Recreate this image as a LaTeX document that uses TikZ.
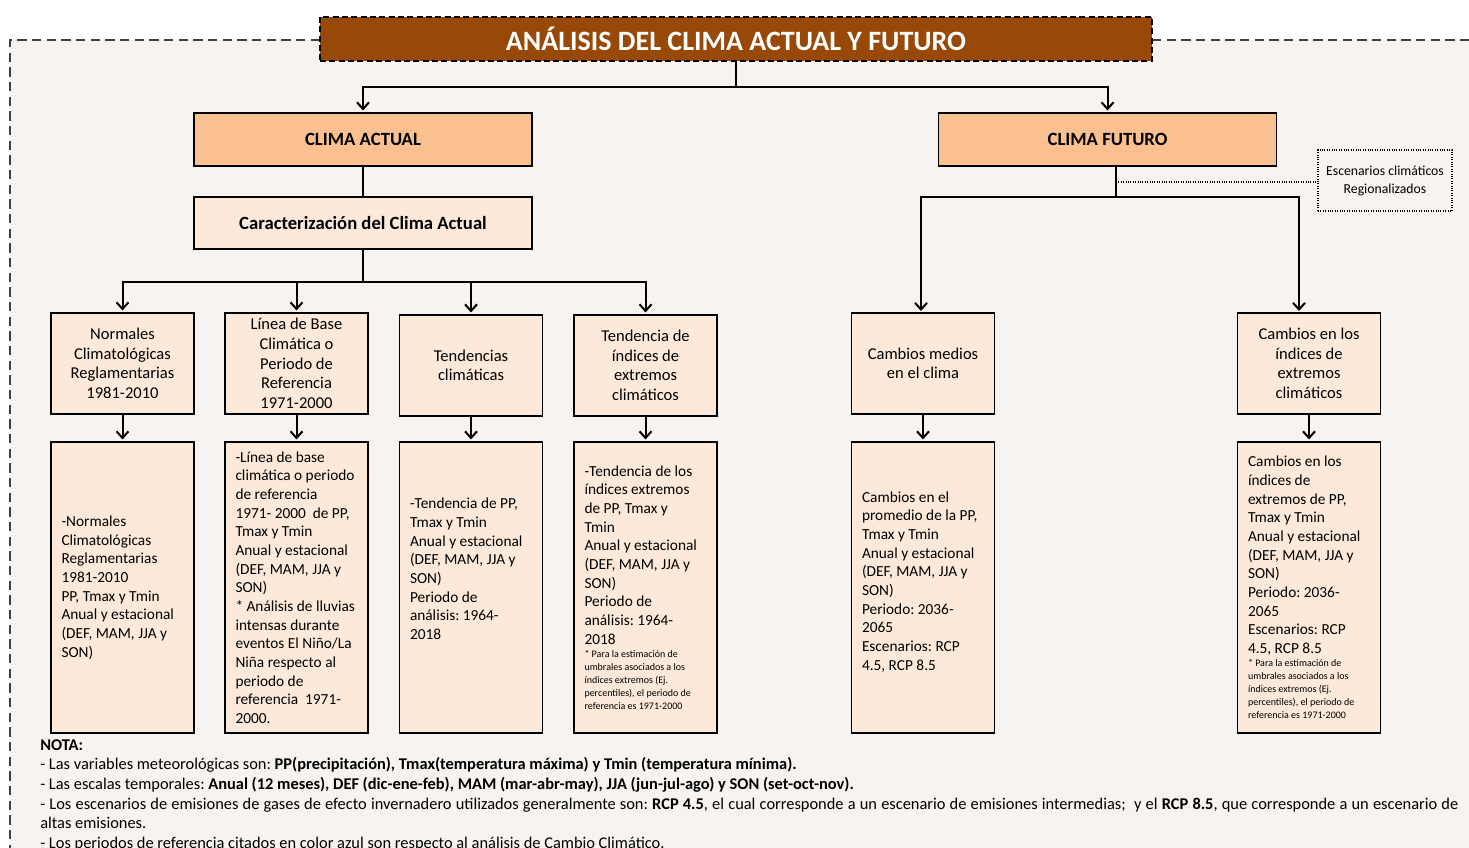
\documentclass[tikz,border=0pt]{standalone}
\usepackage{fontspec}
\setmainfont{Carlito}
\usetikzlibrary{arrows.meta,calc}
\definecolor{titlebrown}{HTML}{984807}
\definecolor{peach}{HTML}{FAC090}
\definecolor{lightpeach}{HTML}{FDE9D9}
\definecolor{bgpaper}{HTML}{F6F3F0}
\definecolor{framegray}{HTML}{404040}
\begin{document}
\frenchspacing
\begin{tikzpicture}[x=0.75pt,y=-0.75pt,
  conn/.style={line width=1.5pt,black},
  arr/.style={conn,-{Straight Barb[length=5pt,width=9pt]},shorten >=1.5pt},
  titlebox/.style={draw=black,fill=titlebrown,line width=1.5pt,dash pattern=on 4.5pt off 2.5pt,
     minimum width=624pt,minimum height=33pt,text=white,font=\bfseries\fontsize{21}{25}\selectfont},
  lvlone/.style={draw=black,fill=peach,line width=0.8pt,minimum width=253.5pt,minimum height=39.75pt,
     font=\bfseries\fontsize{14}{16}\selectfont},
  carbox/.style={draw=black,fill=lightpeach,line width=0.8pt,minimum width=253.5pt,minimum height=39pt,
     font=\bfseries\fontsize{14}{16}\selectfont},
  lvltwo/.style={draw=black,fill=lightpeach,line width=0.8pt,minimum width=107.25pt,minimum height=75.75pt,
     align=flush center,inner sep=2pt,font=\fontsize{12.4}{14.7}\selectfont},
  lvlthree/.style={draw=black,fill=lightpeach,line width=0.8pt,minimum width=107.25pt,minimum height=218.25pt,
     text width=91.5pt,inner xsep=7.8pt,align=flush left,font=\fontsize{11.5}{14}\selectfont},
  escbox/.style={draw=black,densely dotted,line width=0.8pt,minimum width=100.5pt,minimum height=45.75pt,
     align=flush center,font=\fontsize{10.3}{13.5}\selectfont}
]
\clip (0,0) rectangle (1469,848);
% background and dashed frame
\fill[bgpaper] (10,40) rectangle (1480,860);
\draw[framegray,line width=1.2pt,dash pattern=on 7pt off 4pt] (320,40) -- (10,40) -- (10,870);
\draw[framegray,line width=1.2pt,dash pattern=on 7pt off 4pt] (1152,40) -- (1490,40);

% title
\node[titlebox] (title) at (736,39) {ANÁLISIS DEL CLIMA ACTUAL Y FUTURO};

% level 1
\node[lvlone] (act) at (363,139.5) {CLIMA ACTUAL};
\node[lvlone] (fut) at (1107.5,139.5) {CLIMA FUTURO};
\node[carbox] (car) at (363,223) {Caracterización del Clima Actual};
\node[escbox] (esc) at (1385,180.5) {Escenarios climáticos\\Regionalizados};

% level 2
\node[lvltwo] (n1) at (122.5,363.5) {Normales\\Climatológicas\\Reglamentarias\\1981-2010};
\node[lvltwo] (n2) at (296.5,363.5) {Línea de Base\\Climática o\\Periodo de\\Referencia\\1971-2000};
\node[lvltwo] (n3) at (471,365.5) {Tendencias\\climáticas};
\node[lvltwo] (n4) at (645.5,365.5) {Tendencia de\\índices de\\extremos\\climáticos};
\node[lvltwo] (n5) at (923,363.5) {Cambios medios\\en el clima};
\node[lvltwo] (n6) at (1309,363.5) {Cambios en los\\índices de\\extremos\\climáticos};

% level 3
\node[lvlthree] (m1) at (122.5,587.5) {-Normales\\Climatológicas\\Reglamentarias\\1981-2010\\PP, Tmax y Tmin\\Anual y estacional\\(DEF, MAM, JJA y\\SON)};
\node[lvlthree] (m2) at (296.5,587.5) {-Línea de base\\climática o periodo\\de referencia\\1971- 2000~ de PP,\\Tmax y Tmin\\Anual y estacional\\(DEF, MAM, JJA y\\SON)\\{*} Análisis de lluvias\\intensas durante\\eventos El Niño/La\\Niña respecto al\\periodo de\\referencia~ 1971-\\2000.};
\node[lvlthree] (m3) at (471,587.5) {-Tendencia de PP,\\Tmax y Tmin\\Anual y estacional\\(DEF, MAM, JJA y\\SON)\\Periodo de\\análisis: 1964-\\2018\\~\\~};
\node[lvlthree] (m4) at (645.5,587.5) {-Tendencia de los\\índices extremos\\de PP, Tmax y\\Tmin\\Anual y estacional\\(DEF, MAM, JJA y\\SON)\\Periodo de\\análisis: 1964-\\2018\par
{\fontsize{7.5}{9.75}\selectfont {*} Para la estimación de\\umbrales asociados a los\\índices extremos (Ej.\\percentiles), el periodo de\\referencia es 1971-2000\par}};
\node[lvlthree] (m5) at (923,587.5) {Cambios en el\\promedio de la PP,\\Tmax y Tmin\\Anual y estacional\\(DEF, MAM, JJA y\\SON)\\Periodo: 2036-\\2065\\Escenarios: RCP\\4.5, RCP 8.5\\[-4pt]~};
\node[lvlthree] (m6) at (1309,587.5) {Cambios en los\\índices de\\extremos de PP,\\Tmax y Tmin\\Anual y estacional\\(DEF, MAM, JJA y\\SON)\\Periodo: 2036-\\2065\\Escenarios: RCP\\4.5, RCP 8.5\par
{\fontsize{7.5}{9.75}\selectfont {*} Para la estimación de\\umbrales asociados a los\\índices extremos (Ej.\\percentiles), el periodo de\\referencia es 1971-2000\par}};

% connectors: title to level 1
\coordinate (th) at (736,87);
\draw[conn] (title.south) -- (th);
\draw[arr] (th) -| (act.north);
\draw[arr] (th) -| (fut.north);

% actual branch
\draw[conn] (act.south) -- (car.north);
\coordinate (ah) at (363,282);
\draw[conn] (car.south) -- (ah);
\draw[arr] (ah) -| (n1.north);
\draw[arr] (ah) -| (n2.north);
\draw[arr] (ah) -| (n3.north);
\draw[arr] (ah) -| (n4.north);

% futuro branch
\coordinate (fh) at (1116,197);
\coordinate (fd) at (1116,182);
\coordinate (f5) at (921,313);
\coordinate (f6) at (1299,313);
\draw[conn] (fh |- fut.south) -- (fh);
\draw[arr] (fh) -| (f5);
\draw[arr] (fh) -| (f6);
\draw[black,densely dotted,line width=0.8pt] (fd) -- (fd -| esc.west);

% level 2 to level 3
\foreach \i in {1,...,6} {\draw[arr] (n\i.south) -- (m\i.north);}

% notes
\node[anchor=north west,text width=1063.5pt,align=justify,inner sep=0pt,
      font=\fontsize{12.3}{14.8}\selectfont] (nota) at (40,739) {\textbf{NOTA:}\\
- Las variables meteorológicas son: \textbf{PP(precipitación), Tmax(temperatura máxima) y Tmin (temperatura mínima).}\\
- Las escalas temporales: \textbf{Anual (12 meses), DEF (dic-ene-feb), MAM (mar-abr-may), JJA (jun-jul-ago) y SON (set-oct-nov).}\\
- Los escenarios de emisiones de gases de efecto invernadero utilizados generalmente son: \textbf{RCP 4.5}, el cual corresponde a un escenario de emisiones intermedias;~ y el \textbf{RCP 8.5}, que corresponde a un escenario de\linebreak altas emisiones.\\
- Los periodos de referencia citados en color azul son respecto al análisis de Cambio Climático.};
\end{tikzpicture}
\end{document}
